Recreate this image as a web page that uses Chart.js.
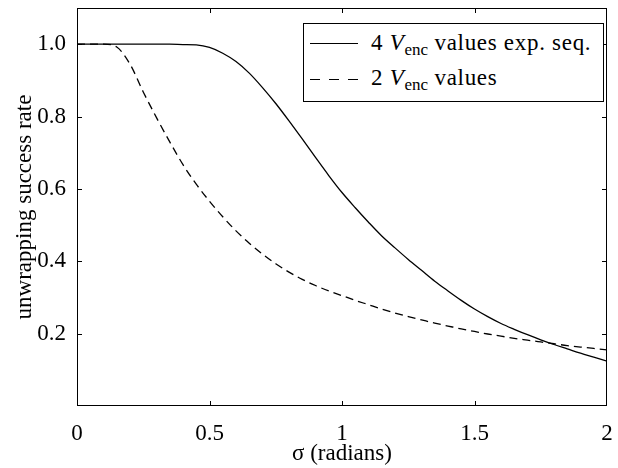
<!DOCTYPE html>
<html>
<head>
<meta charset="utf-8">
<script src="https://cdn.jsdelivr.net/npm/chart.js@4"></script>
<style>
  body { margin: 0; background: #fff; }
  #wrap { position: relative; width: 618px; height: 468px; }
  #legend {
    position: absolute; left: 303px; top: 23px; width: 299px; height: 77px;
    border: 1px solid #000; background: #fff; color: #000;
    font-family: 'Liberation Serif', serif; font-size: 23px; letter-spacing: 0.7px;
  }
  #legend svg { position: absolute; left: 6px; }
  #legend .txt { position: absolute; left: 67px; line-height: 23px; white-space: nowrap; }
  #legend sub { font-size: 17px; position: relative; top: 5px; vertical-align: baseline; letter-spacing: 0; }
</style>
</head>
<body>
<div id="wrap">
  <canvas id="chart" width="618" height="468"></canvas>
  <div id="legend">
    <svg width="48" height="3" style="top:18px"><line x1="0" y1="1.5" x2="48" y2="1.5" stroke="#000" stroke-width="1.2"/></svg>
    <span class="txt" style="top:7px">4 <i>V</i><sub>enc</sub> values exp. seq.</span>
    <svg width="48" height="3" style="top:54px"><line x1="0" y1="1.5" x2="48" y2="1.5" stroke="#000" stroke-width="1.2" stroke-dasharray="10 9"/></svg>
    <span class="txt" style="top:42px">2 <i>V</i><sub>enc</sub> values</span>
  </div>
</div>
<script>
  // sigma (radians) sample positions
  const sigma = [0, 0.05, 0.1, 0.15, 0.2, 0.25, 0.3, 0.35, 0.4, 0.45, 0.5, 0.55, 0.6, 0.65, 0.7, 0.75,
                 0.8, 0.85, 0.9, 0.95, 1.0, 1.05, 1.1, 1.15, 1.2, 1.25, 1.3, 1.35, 1.4, 1.45, 1.5,
                 1.55, 1.6, 1.65, 1.7, 1.75, 1.8, 1.85, 1.9, 1.95, 2.0];

  // 4 Venc values, exponential sequence (solid)
  const fourVenc = [1, 1, 1, 1, 1, 1, 1, 1, 0.999, 0.998, 0.991, 0.975, 0.952, 0.92, 0.88, 0.836,
                    0.788, 0.738, 0.687, 0.637, 0.59, 0.548, 0.508, 0.47, 0.437, 0.405, 0.375, 0.345, 0.318, 0.292, 0.268,
                    0.247, 0.228, 0.212, 0.197, 0.183, 0.17, 0.158, 0.146, 0.135, 0.124];

  // 2 Venc values (dashed)
  const twoVenc = [1, 1, 1, 0.992, 0.945, 0.868, 0.797, 0.73, 0.667, 0.613, 0.566, 0.523, 0.484, 0.45, 0.42, 0.393,
                   0.37, 0.35, 0.333, 0.318, 0.305, 0.292, 0.28, 0.268, 0.257, 0.247, 0.238, 0.229, 0.221, 0.213, 0.206,
                   0.199, 0.193, 0.187, 0.182, 0.177, 0.172, 0.167, 0.163, 0.159, 0.155];

  const xTicks = [0, 0.5, 1, 1.5, 2];
  const yTicks = [0, 0.2, 0.4, 0.6, 0.8, 1.0];

  const font = { family: "'Liberation Serif', serif", size: 23 };

  // box around the plot with inward tick marks on all four sides
  const frame = {
    id: 'frame',
    afterDatasetsDraw(chart) {
      const { ctx, chartArea: a, scales: { x, y } } = chart;
      const len = 5;
      ctx.save();
      ctx.strokeStyle = '#000';
      ctx.lineWidth = 1;
      ctx.strokeRect(a.left + 0.5, a.top + 0.5, a.right - a.left - 1, a.bottom - a.top - 1);
      ctx.beginPath();
      xTicks.slice(1, -1).forEach(v => {
        const px = Math.round(x.getPixelForValue(v)) + 0.5;
        ctx.moveTo(px, a.bottom); ctx.lineTo(px, a.bottom - len);
        ctx.moveTo(px, a.top); ctx.lineTo(px, a.top + len);
      });
      yTicks.slice(1).forEach(v => {
        const py = Math.round(y.getPixelForValue(v)) + 0.5;
        ctx.moveTo(a.left, py); ctx.lineTo(a.left + len, py);
        ctx.moveTo(a.right, py); ctx.lineTo(a.right - len, py);
      });
      ctx.stroke();
      ctx.restore();
    }
  };

  const toPoints = vals => sigma.map((s, i) => ({ x: s, y: vals[i] }));

  new Chart(document.getElementById('chart'), {
    type: 'line',
    data: {
      datasets: [
        { label: '4 Venc values exp. seq.', data: toPoints(fourVenc), borderColor: '#000', borderWidth: 1.3,
          pointRadius: 0, cubicInterpolationMode: 'monotone', fill: false },
        { label: '2 Venc values', data: toPoints(twoVenc), borderColor: '#000', borderWidth: 1.3,
          borderDash: [8, 5], pointRadius: 0, cubicInterpolationMode: 'monotone', fill: false }
      ]
    },
    options: {
      responsive: false,
      animation: false,
      layout: { padding: { top: 8, right: 11, left: 0, bottom: 0 } },
      plugins: { legend: { display: false }, tooltip: { enabled: false } },
      scales: {
        x: {
          type: 'linear', min: 0, max: 2,
          afterBuildTicks: s => { s.ticks = xTicks.map(v => ({ value: v })); },
          afterFit: s => { s.height = 62; s.paddingLeft = 0; s.paddingRight = 0; },
          grid: { display: false },
          border: { display: false },
          ticks: { color: '#000', font, padding: 6, maxRotation: 0, autoSkip: false, callback: v => String(v) },
          title: { display: true, text: 'σ (radians)', color: '#000', font, padding: { top: 0, bottom: 0 } }
        },
        y: {
          min: 0, max: 1.1,
          afterBuildTicks: s => { s.ticks = yTicks.map(v => ({ value: v })); },
          afterFit: s => { s.width = 77; s.paddingTop = 0; s.paddingBottom = 0; },
          grid: { display: false },
          border: { display: false },
          ticks: { color: '#000', font, padding: 3, autoSkip: false, callback: v => v === 0 ? '' : v.toFixed(1) },
          title: { display: true, text: 'unwrapping success rate', color: '#000', font, padding: 11 }
        }
      }
    },
    plugins: [frame]
  });
</script>
</body>
</html>
